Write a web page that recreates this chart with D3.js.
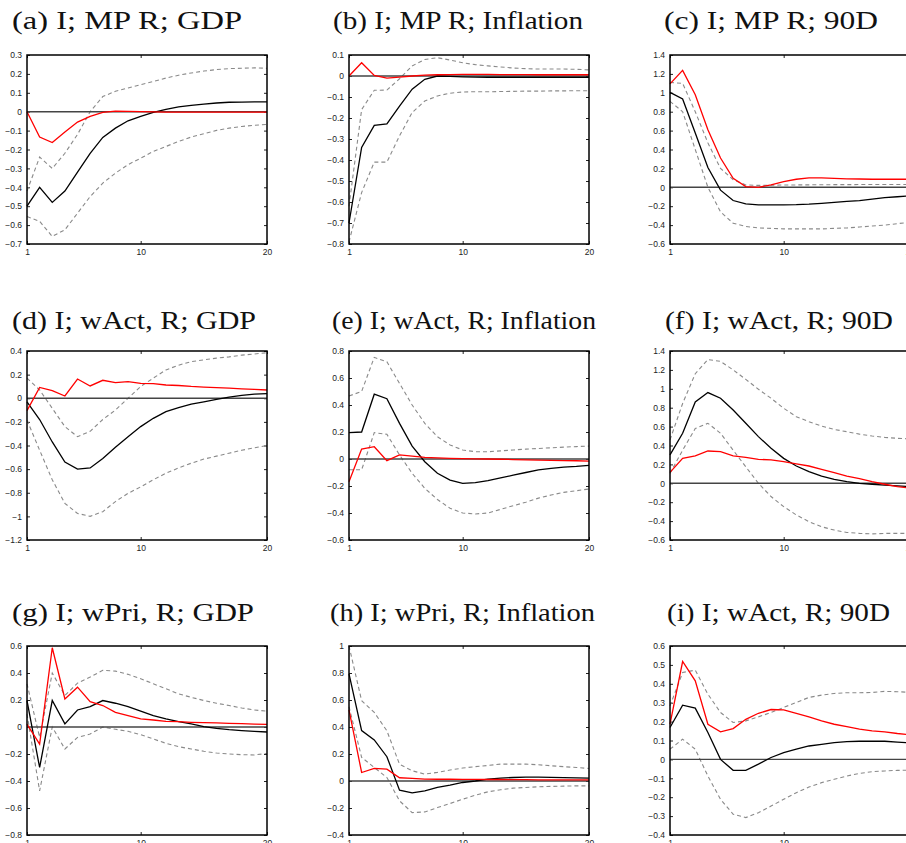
<!DOCTYPE html>
<html>
<head>
<meta charset="utf-8">
<script src="https://cdn.jsdelivr.net/npm/d3@7"></script>
<style>
  body { margin: 0; background: #fff; }
</style>
</head>
<body>
<div id="chart"></div>
<script>
const width = 906
const height = 843

// horizon (quarters)
const steps = d3.range(1, 21)

const titles = [
  "(a) I; MP R; GDP", "(b) I; MP R; Inflation", "(c) I; MP R; 90D",
  "(d) I; wAct, R; GDP", "(e) I; wAct, R; Inflation", "(f) I; wAct, R; 90D",
  "(g) I; wPri, R; GDP", "(h) I; wPri, R; Inflation", "(i) I; wAct, R; 90D"
]

const yDomains = [
  [-0.7, 0.3], [-0.8, 0.1], [-0.6, 1.4],
  [-1.2, 0.4], [-0.6, 0.8], [-0.6, 1.4],
  [-0.8, 0.6], [-0.4, 1.0], [-0.4, 0.6]
]
const yTicks = [
  d3.range(-7, 4).map(v => v / 10), d3.range(-8, 2).map(v => v / 10), d3.range(-6, 15, 2).map(v => v / 10),
  d3.range(-12, 5, 2).map(v => v / 10), d3.range(-6, 9, 2).map(v => v / 10), d3.range(-6, 15, 2).map(v => v / 10),
  d3.range(-8, 7, 2).map(v => v / 10), d3.range(-4, 11, 2).map(v => v / 10), d3.range(-4, 7).map(v => v / 10)
]
const xTicks = [1, 10, 20]

// (a) MP R -> GDP
const aMed = [-0.50, -0.40, -0.48, -0.42, -0.32, -0.22, -0.136, -0.087, -0.048, -0.025, -0.004, 0.012, 0.025, 0.034, 0.040, 0.046, 0.050, 0.051, 0.052, 0.052]
const aUp  = [-0.42, -0.24, -0.30, -0.22, -0.12, 0.0, 0.08, 0.108, 0.125, 0.143, 0.16, 0.178, 0.193, 0.205, 0.215, 0.223, 0.228, 0.230, 0.232, 0.230]
const aLo  = [-0.555, -0.58, -0.66, -0.625, -0.537, -0.449, -0.378, -0.325, -0.28, -0.246, -0.21, -0.184, -0.157, -0.134, -0.117, -0.099, -0.087, -0.078, -0.072, -0.067]
const aRed = [0, -0.134, -0.163, -0.108, -0.055, -0.025, -0.003, 0.003, 0.002, 0, -0.001, -0.002, -0.002, -0.002, -0.002, -0.002, -0.002, -0.002, -0.002, -0.002]

// (b) MP R -> Inflation
const bMed = [-0.70, -0.34, -0.235, -0.228, -0.143, -0.063, -0.016, 0.0, -0.002, -0.004, -0.005, -0.006, -0.006, -0.006, -0.006, -0.006, -0.006, -0.006, -0.006, -0.006]
const bUp  = [-0.62, -0.16, -0.068, -0.067, -0.013, 0.048, 0.079, 0.087, 0.076, 0.063, 0.054, 0.048, 0.043, 0.038, 0.035, 0.033, 0.033, 0.033, 0.032, 0.029]
const bLo  = [-0.79, -0.555, -0.41, -0.41, -0.285, -0.174, -0.119, -0.095, -0.082, -0.076, -0.075, -0.075, -0.074, -0.073, -0.072, -0.072, -0.071, -0.071, -0.070, -0.070]
const bRed = [0, 0.063, 0.003, -0.01, -0.005, 0.0, 0.004, 0.006, 0.007, 0.008, 0.008, 0.008, 0.007, 0.007, 0.007, 0.006, 0.006, 0.006, 0.006, 0.006]

// (c) MP R -> 90D
const cMed = [1.005, 0.934, 0.574, 0.21, -0.03, -0.14, -0.176, -0.186, -0.186, -0.185, -0.183, -0.178, -0.17, -0.16, -0.15, -0.14, -0.125, -0.11, -0.10, -0.09]
const cUp  = [1.11, 1.10, 0.80, 0.47, 0.20, 0.08, 0.025, 0.02, 0.022, 0.024, 0.025, 0.026, 0.027, 0.028, 0.028, 0.029, 0.029, 0.030, 0.030, 0.030]
const cLo  = [0.91, 0.80, 0.40, 0.0, -0.26, -0.38, -0.415, -0.43, -0.435, -0.44, -0.44, -0.44, -0.44, -0.435, -0.43, -0.42, -0.41, -0.40, -0.385, -0.37]
const cRed = [1.095, 1.237, 0.98, 0.61, 0.31, 0.096, 0.008, 0.0, 0.026, 0.06, 0.085, 0.10, 0.10, 0.095, 0.09, 0.088, 0.085, 0.085, 0.085, 0.085]

// (d) wAct -> GDP
const dMed = [-0.03, -0.18, -0.37, -0.54, -0.60, -0.59, -0.51, -0.415, -0.325, -0.24, -0.17, -0.113, -0.08, -0.05, -0.03, -0.01, 0.01, 0.025, 0.035, 0.04]
const dUp  = [0.17, 0.07, -0.085, -0.24, -0.325, -0.28, -0.18, -0.10, 0.0, 0.10, 0.17, 0.24, 0.28, 0.31, 0.325, 0.34, 0.35, 0.365, 0.375, 0.385]
const dLo  = [-0.185, -0.44, -0.69, -0.89, -0.975, -1.0, -0.96, -0.875, -0.805, -0.75, -0.69, -0.635, -0.59, -0.55, -0.515, -0.49, -0.465, -0.44, -0.42, -0.40]
const dRed = [-0.105, 0.092, 0.064, 0.019, 0.163, 0.104, 0.152, 0.132, 0.141, 0.126, 0.123, 0.112, 0.108, 0.10, 0.095, 0.09, 0.085, 0.08, 0.075, 0.07]

// (e) wAct -> Inflation
const eMed = [0.195, 0.20, 0.48, 0.447, 0.264, 0.096, -0.02, -0.106, -0.156, -0.18, -0.175, -0.16, -0.14, -0.12, -0.10, -0.08, -0.07, -0.06, -0.055, -0.047]
const eUp  = [0.467, 0.50, 0.753, 0.72, 0.56, 0.40, 0.264, 0.165, 0.104, 0.067, 0.054, 0.054, 0.06, 0.067, 0.073, 0.078, 0.083, 0.088, 0.092, 0.096]
const eLo  = [-0.08, -0.08, 0.195, 0.183, 0.03, -0.106, -0.217, -0.30, -0.365, -0.40, -0.407, -0.40, -0.373, -0.346, -0.32, -0.29, -0.267, -0.247, -0.235, -0.222]
const eRed = [-0.168, 0.074, 0.091, -0.012, 0.03, 0.022, 0.012, 0.008, 0.005, 0.003, 0.001, 0.0, -0.002, -0.004, -0.006, -0.008, -0.010, -0.012, -0.013, -0.015]

// (f) wAct -> 90D
const fMed = [0.30, 0.53, 0.86, 0.96, 0.90, 0.775, 0.635, 0.494, 0.37, 0.264, 0.183, 0.123, 0.077, 0.042, 0.017, 0.0, -0.01, -0.02, -0.028, -0.035]
const fUp  = [0.46, 0.845, 1.16, 1.31, 1.29, 1.20, 1.10, 0.995, 0.90, 0.794, 0.705, 0.652, 0.606, 0.57, 0.546, 0.52, 0.50, 0.486, 0.476, 0.47]
const fLo  = [0.105, 0.35, 0.58, 0.635, 0.53, 0.35, 0.175, 0.0, -0.14, -0.247, -0.335, -0.406, -0.46, -0.495, -0.52, -0.53, -0.535, -0.53, -0.53, -0.53]
const fRed = [0.116, 0.265, 0.29, 0.342, 0.335, 0.29, 0.275, 0.254, 0.247, 0.23, 0.205, 0.183, 0.148, 0.113, 0.077, 0.049, 0.017, -0.01, -0.035, -0.05]

// (g) wPri -> GDP
const gMed = [0.196, -0.30, 0.196, 0.023, 0.126, 0.151, 0.196, 0.176, 0.151, 0.117, 0.084, 0.06, 0.04, 0.023, 0.003, -0.01, -0.02, -0.027, -0.032, -0.037]
const gUp  = [0.32, -0.077, 0.40, 0.233, 0.325, 0.37, 0.42, 0.414, 0.39, 0.357, 0.32, 0.283, 0.245, 0.22, 0.196, 0.176, 0.159, 0.141, 0.126, 0.117]
const gLo  = [0.096, -0.473, 0.0, -0.163, -0.077, -0.052, 0.0, -0.017, -0.032, -0.057, -0.089, -0.121, -0.146, -0.163, -0.18, -0.193, -0.20, -0.205, -0.207, -0.196]
const gRed = [0.022, -0.127, 0.587, 0.208, 0.295, 0.188, 0.159, 0.109, 0.084, 0.06, 0.052, 0.042, 0.04, 0.035, 0.032, 0.03, 0.027, 0.025, 0.022, 0.02]

// (h) wPri -> Inflation
const hMed = [0.794, 0.373, 0.304, 0.18, -0.068, -0.088, -0.073, -0.048, -0.031, -0.011, 0.0, 0.014, 0.021, 0.026, 0.028, 0.028, 0.027, 0.025, 0.023, 0.022]
const hUp  = [1.0, 0.595, 0.508, 0.372, 0.124, 0.076, 0.051, 0.064, 0.081, 0.096, 0.106, 0.115, 0.125, 0.125, 0.125, 0.12, 0.113, 0.106, 0.10, 0.093]
const hLo  = [0.55, 0.175, 0.10, 0.026, -0.147, -0.234, -0.229, -0.197, -0.167, -0.135, -0.105, -0.08, -0.065, -0.053, -0.048, -0.043, -0.04, -0.038, -0.036, -0.036]
const hRed = [0.526, 0.063, 0.093, 0.088, 0.024, 0.019, 0.014, 0.013, 0.013, 0.012, 0.012, 0.011, 0.011, 0.010, 0.010, 0.009, 0.009, 0.009, 0.008, 0.008]

// (i) wAct -> 90D
const iMed = [0.169, 0.287, 0.271, 0.142, 0.0, -0.058, -0.058, -0.025, 0.01, 0.036, 0.054, 0.071, 0.08, 0.089, 0.094, 0.096, 0.096, 0.096, 0.091, 0.087]
const iUp  = [0.283, 0.46, 0.472, 0.345, 0.248, 0.195, 0.204, 0.225, 0.248, 0.275, 0.301, 0.328, 0.34, 0.349, 0.353, 0.353, 0.354, 0.36, 0.358, 0.355]
const iLo  = [0.054, 0.107, 0.054, -0.088, -0.211, -0.29, -0.308, -0.282, -0.247, -0.211, -0.176, -0.146, -0.123, -0.105, -0.088, -0.074, -0.065, -0.061, -0.058, -0.057]
const iRed = [0.186, 0.518, 0.416, 0.186, 0.146, 0.163, 0.212, 0.244, 0.264, 0.262, 0.244, 0.225, 0.204, 0.186, 0.174, 0.16, 0.151, 0.146, 0.137, 0.13]

const medians = [aMed, bMed, cMed, dMed, eMed, fMed, gMed, hMed, iMed]
const uppers  = [aUp, bUp, cUp, dUp, eUp, fUp, gUp, hUp, iUp]
const lowers  = [aLo, bLo, cLo, dLo, eLo, fLo, gLo, hLo, iLo]
const reds    = [aRed, bRed, cRed, dRed, eRed, fRed, gRed, hRed, iRed]

// layout (pixels)
const colLeft = [27, 349, 670]
const rowTop = [55, 351, 646]
const plotW = 240
const plotH = 189
const titleBase = [29, 329, 621]
const titleX = [12, 333, 664, 12, 332, 665, 12, 330, 667]
const titleW = [230, 250, 214, 244, 264, 228, 242, 265, 223]

const svg = d3.select("div#chart").append("svg").attr("width", width).attr("height", height)
  .style("font-family", "'Liberation Sans', Arial, sans-serif")

const fmt = d3.format("~g")

titles.forEach((title, i) => {
  const col = i % 3, row = Math.floor(i / 3)
  const left = colLeft[col], top = rowTop[row]

  svg.append("text")
    .attr("x", titleX[i]).attr("y", titleBase[row])
    .attr("textLength", titleW[i]).attr("lengthAdjust", "spacingAndGlyphs")
    .style("font-family", "'Liberation Serif', 'DejaVu Serif', serif")
    .style("font-size", "25px")
    .attr("fill", "#111")
    .text(title)

  const g = svg.append("g").attr("transform", `translate(${left}, ${top})`)

  const x = d3.scaleLinear().domain([1, 20]).range([0, plotW])
  const y = d3.scaleLinear().domain(yDomains[i]).range([plotH, 0])

  // axes: MATLAB-style inward ticks on all four sides
  const yAxis = d3.axisLeft(y).tickValues(yTicks[i]).tickSize(-3).tickPadding(5).tickFormat(fmt)
  const yAxisR = d3.axisRight(y).tickValues(yTicks[i]).tickSize(-3).tickFormat("")
  const xAxis = d3.axisBottom(x).tickValues(xTicks).tickSize(-3).tickPadding(5).tickFormat(fmt)
  const xAxisT = d3.axisTop(x).tickValues(xTicks).tickSize(-3).tickFormat("")

  const axes = [
    g.append("g").call(yAxis),
    g.append("g").attr("transform", `translate(${plotW}, 0)`).call(yAxisR),
    g.append("g").attr("transform", `translate(0, ${plotH})`).call(xAxis),
    g.append("g").call(xAxisT)
  ]
  axes.forEach(a => {
    a.select(".domain").remove()
    a.selectAll("line").attr("stroke", "#222")
    a.selectAll("text").attr("fill", "#222").style("font-size", "8.5px")
  })

  const line = d3.line().x((d, k) => x(steps[k])).y(d => y(d))

  g.append("path").datum(uppers[i]).attr("d", line)
    .attr("fill", "none").attr("stroke", "#8a8a8a").attr("stroke-width", 1.1).attr("stroke-dasharray", "4,3")
  g.append("path").datum(lowers[i]).attr("d", line)
    .attr("fill", "none").attr("stroke", "#8a8a8a").attr("stroke-width", 1.1).attr("stroke-dasharray", "4,3")

  g.append("line")
    .attr("x1", 0).attr("x2", plotW).attr("y1", y(0)).attr("y2", y(0))
    .attr("stroke", "#444").attr("stroke-width", 1.4)

  g.append("path").datum(medians[i]).attr("d", line)
    .attr("fill", "none").attr("stroke", "#000").attr("stroke-width", 1.3)
  g.append("path").datum(reds[i]).attr("d", line)
    .attr("fill", "none").attr("stroke", "#ff0000").attr("stroke-width", 1.3)

  // frame
  g.append("rect").attr("width", plotW).attr("height", plotH)
    .attr("fill", "none").attr("stroke", "#000").attr("stroke-width", 1.5)
})
</script>
</body>
</html>
